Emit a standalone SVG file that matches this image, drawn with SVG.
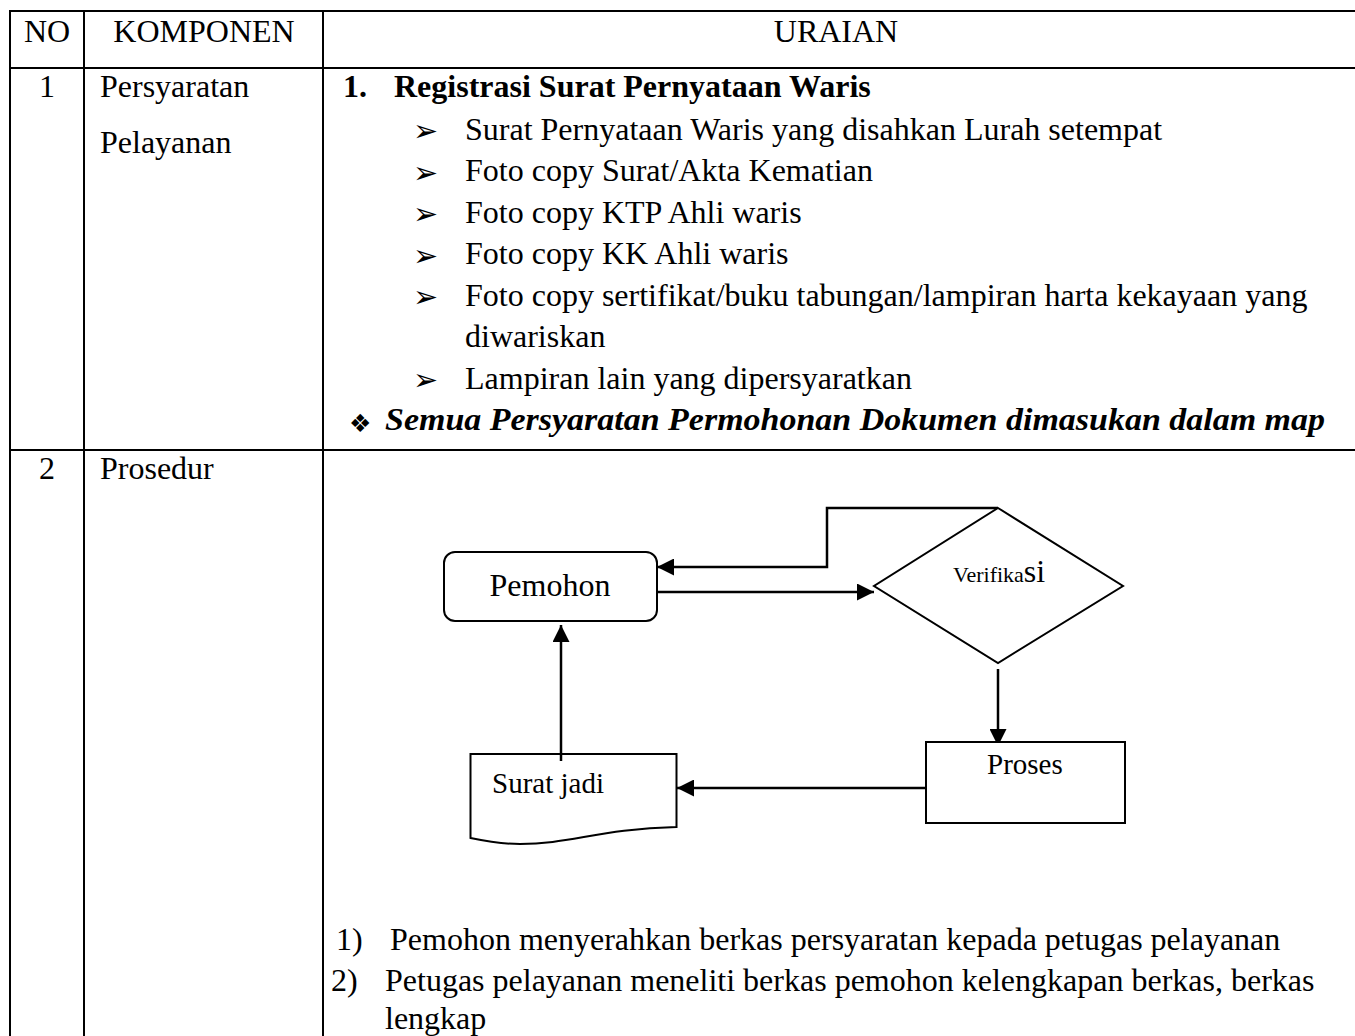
<svg xmlns="http://www.w3.org/2000/svg" width="1355" height="1036" viewBox="0 0 1355 1036">
  <style>
    text { font-family: "Liberation Serif", "Times New Roman", serif; font-size: 32px; fill: #000; }
    .b { font-weight: bold; }
    .bi { font-weight: bold; font-style: italic; }
    .arr { font-family: "DejaVu Sans", sans-serif; font-size: 30px; }
    .dia { font-family: "DejaVu Sans", sans-serif; font-size: 25px; }
    .grid { stroke: #000; stroke-width: 2; fill: none; }
    .shape { stroke: #000; stroke-width: 2; fill: #fff; }
    .conn { stroke: #000; stroke-width: 2.5; fill: none; }
    .fc { font-size: 29px; }
  </style>
  <defs>
    <marker id="arrow" markerUnits="userSpaceOnUse" markerWidth="18" markerHeight="17" refX="17" refY="8.5" orient="auto">
      <path d="M0,0 L17,8.5 L0,17 Z" fill="#000"/>
    </marker>
  </defs>

  <!-- table grid -->
  <g id="table">
    <line class="grid" x1="10" y1="11" x2="1355" y2="11"/>
    <line class="grid" x1="10" y1="68" x2="1355" y2="68"/>
    <line class="grid" x1="10" y1="450" x2="1355" y2="450"/>
    <line class="grid" x1="10" y1="10" x2="10" y2="1036"/>
    <line class="grid" x1="84" y1="10" x2="84" y2="1036"/>
    <line class="grid" x1="323" y1="10" x2="323" y2="1036"/>
  </g>

  <!-- header -->
  <g id="header">
    <text x="47" y="42" text-anchor="middle">NO</text>
    <text x="204" y="42" text-anchor="middle">KOMPONEN</text>
    <text x="836" y="42" text-anchor="middle">URAIAN</text>
  </g>

  <!-- row 1 -->
  <g id="row1">
    <text x="47" y="97" text-anchor="middle">1</text>
    <text x="100" y="97">Persyaratan</text>
    <text x="100" y="153">Pelayanan</text>
    <text class="b" x="343" y="97">1.</text>
    <text class="b" x="394" y="97">Registrasi Surat Pernyataan Waris</text>
    <g id="bullets">
      <text class="arr" x="413" y="141">➢</text>
      <text x="465" y="139.5">Surat Pernyataan Waris yang disahkan Lurah setempat</text>
      <text class="arr" x="413" y="182.5">➢</text>
      <text x="465" y="181">Foto copy Surat/Akta Kematian</text>
      <text class="arr" x="413" y="224">➢</text>
      <text x="465" y="222.5">Foto copy KTP Ahli waris</text>
      <text class="arr" x="413" y="265.5">➢</text>
      <text x="465" y="264">Foto copy KK Ahli waris</text>
      <text class="arr" x="413" y="307">➢</text>
      <text x="465" y="305.5">Foto copy sertifikat/buku tabungan/lampiran harta kekayaan yang</text>
      <text x="465" y="347">diwariskan</text>
      <text class="arr" x="413" y="390">➢</text>
      <text x="465" y="388.5">Lampiran lain yang dipersyaratkan</text>
      <text class="dia" x="349" y="432">❖</text>
      <text class="bi" x="385" y="430" textLength="940" lengthAdjust="spacingAndGlyphs">Semua Persyaratan Permohonan Dokumen dimasukan dalam map</text>
    </g>
  </g>

  <!-- row 2 -->
  <g id="row2">
    <text x="47" y="479" text-anchor="middle">2</text>
    <text x="100" y="479">Prosedur</text>
  </g>

  <!-- flowchart connectors -->
  <g id="connectors">
    <path class="conn" d="M998,508 H827 V567 H657" marker-end="url(#arrow)"/>
    <path class="conn" d="M657,592 H874" marker-end="url(#arrow)"/>
    <path class="conn" d="M998,669 V746" marker-end="url(#arrow)"/>
    <path class="conn" d="M926,788 H677" marker-end="url(#arrow)"/>
    <path class="conn" d="M561,760 V625" marker-end="url(#arrow)"/>
  </g>

  <!-- flowchart nodes -->
  <g id="pemohon">
    <rect class="shape" x="444" y="552" width="213" height="69" rx="11"/>
    <text x="550" y="596" text-anchor="middle">Pemohon</text>
  </g>
  <g id="verifikasi">
    <path class="shape" d="M998,508 L1123,586 L998,663 L874,586 Z"/>
    <text x="953" y="582" style="font-size:22px">Verifika<tspan style="font-size:32px">si</tspan></text>
  </g>
  <g id="proses">
    <rect class="shape" x="926" y="742" width="199" height="81"/>
    <text class="fc" x="987" y="774">Proses</text>
  </g>
  <g id="surat-jadi">
    <path class="shape" d="M470.5,754 H676.5 V827 C600,829 570,844 520,844 C500,844 485,841 470.5,838 Z"/>
    <text class="fc" x="492" y="793">Surat jadi</text>
  </g>
  <!-- short stub of the upward connector drawn over the document top edge -->
  <line class="conn" x1="561" y1="754" x2="561" y2="761"/>

  <!-- procedure steps -->
  <g id="steps">
    <text x="336" y="950">1)</text>
    <text x="390" y="950">Pemohon menyerahkan berkas persyaratan kepada petugas pelayanan</text>
    <text x="331" y="991">2)</text>
    <text x="385" y="991">Petugas pelayanan meneliti berkas pemohon kelengkapan berkas, berkas</text>
    <text x="385" y="1029">lengkap</text>
  </g>
</svg>
